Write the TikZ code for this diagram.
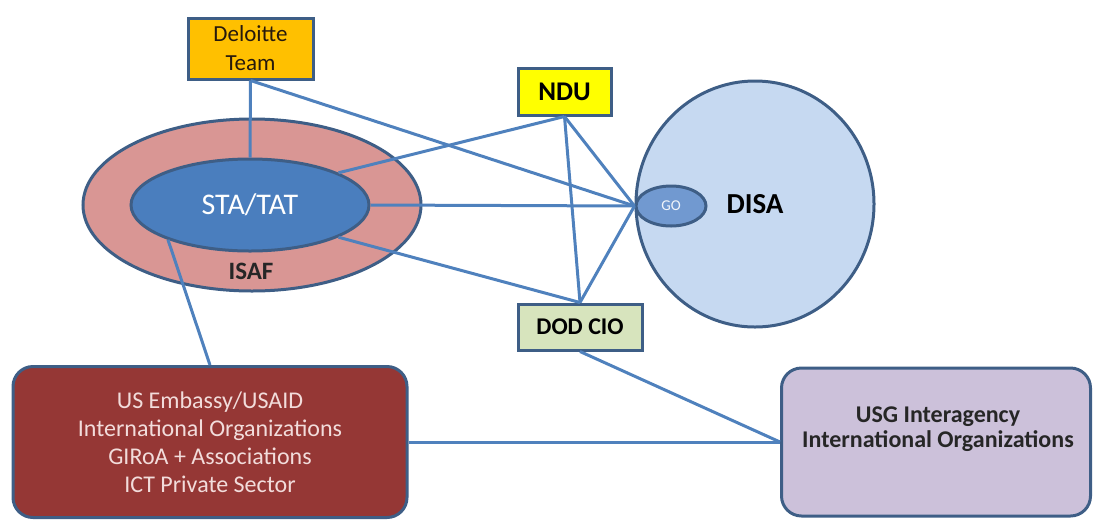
\documentclass[tikz,border=0pt]{standalone}
\usepackage{fontspec}
\setmainfont{Carlito}
\usetikzlibrary{shapes.geometric,positioning}
\definecolor{linkblue}{HTML}{4F81BD}
\definecolor{edgeblue}{HTML}{3E5E86}
\definecolor{deloitteorange}{HTML}{FFC000}
\definecolor{nduyellow}{HTML}{FFFF00}
\definecolor{ciogreen}{HTML}{D7E4BD}
\definecolor{isafpink}{HTML}{D99694}
\definecolor{tatblue}{HTML}{4A7EBE}
\definecolor{disablue}{HTML}{C6D9F1}
\definecolor{goblue}{HTML}{7199D0}
\definecolor{embassyred}{HTML}{953735}
\definecolor{embassytext}{HTML}{F2DCDB}
\definecolor{usglilac}{HTML}{CCC1DA}

\begin{document}
\begin{tikzpicture}[
  x=1pt, y=-1pt,
  orgbox/.style={draw=edgeblue, line width=3pt, align=center, inner sep=0pt},
  orgoval/.style={ellipse, draw=edgeblue, line width=3pt, align=center, inner sep=0pt},
  bigbox/.style={draw=edgeblue, line width=3pt, rounded corners=20pt, align=center, inner sep=0pt},
  link/.style={draw=linkblue, line width=3pt}
]
\useasboundingbox (0,0) rectangle (1094,520);
% outer circles
\node[orgoval, fill=isafpink, minimum width=338, minimum height=172] (isaf) at (252,205) {};
\node[orgoval, fill=disablue, minimum width=238, minimum height=246, font=\fontsize{29}{32}\selectfont\bfseries] (disa) at (755,204) {DISA};
\node[font=\fontsize{25}{28}\selectfont\bfseries, text=black!85] (isaflabel) at (251,271) {ISAF};
% inner nodes
\node[orgoval, fill=tatblue, minimum width=238, minimum height=92, text=white, font=\fontsize{30}{34}\selectfont] (statat) at (250,205) {STA/TAT};
\node[orgoval, fill=goblue, minimum width=70, minimum height=40, text=white!90!goblue, font=\fontsize{15}{17}\selectfont] (go) at (671,206) {GO};
\node[orgbox, fill=deloitteorange, minimum width=125, minimum height=61, text=black!80!brown, font=\fontsize{23}{29}\selectfont] (deloitte) at (250.5,48.5) {Deloitte\\Team};
\node[orgbox, fill=nduyellow, minimum width=93, minimum height=47, font=\fontsize{27}{30}\selectfont\bfseries] (ndu) at (564.5,91.5) {NDU};
\node[orgbox, fill=ciogreen, minimum width=124, minimum height=46, font=\fontsize{24}{27}\selectfont\bfseries] (dodcio) at (580,327) {DOD CIO};
% bottom boxes
\node[bigbox, fill=embassyred, minimum width=394, minimum height=151, text=embassytext, font=\fontsize{24}{28}\selectfont] (embassy) at (210,442) {US Embassy/USAID\\International Organizations\\GIRoA + Associations\\ICT Private Sector};
\node[bigbox, fill=usglilac, minimum width=309, minimum height=148] (usg) at (936,442) {};
\node[align=center, font=\fontsize{24}{25}\selectfont\bfseries, text=black!85] (usglabel) at (938,429) {USG Interagency\\International Organizations};
% links
\draw[link] (deloitte.south) -- (statat.north);
\draw[link] (deloitte.south) -- (go.west);
\draw[link] (ndu.south) -- (statat.20);
\draw[link] (ndu.south) -- (go.west);
\draw[link] (ndu.south) -- (dodcio.north);
\draw[link] (statat.east) -- (go.west);
\draw[link] (statat.-20) -- (dodcio.north);
\draw[link] (dodcio.north) -- (go.west);
\draw[link] (statat.-157) -- (embassy.north);
\draw[link] (dodcio.south) -- (usg.west);
\draw[link] (embassy.east) -- (usg.west);
\end{tikzpicture}
\end{document}
